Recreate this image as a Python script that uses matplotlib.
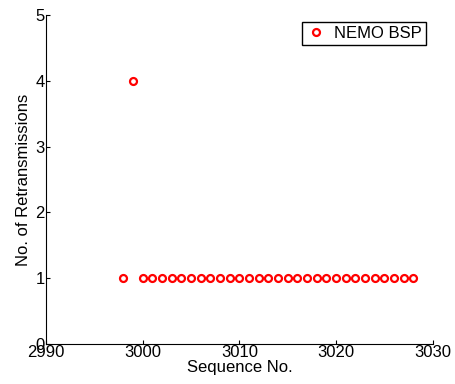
import numpy as np
import matplotlib.pyplot as plt

plt.rcParams['font.family'] = ['Liberation Sans', 'DejaVu Sans']

# Daten
seq_nr = [2998, 2999] + list(range(3000, 3029))
retrans = [1, 4] + [1] * 29

fig = plt.figure(figsize=(4.56, 3.84), dpi=100)
ax = fig.add_axes([0.101, 0.104, 0.848, 0.857])

ax.plot(seq_nr, retrans, 'o', color='red', markerfacecolor='none',
        markersize=5, markeredgewidth=1.6, label='NEMO BSP')

ax.set_xlim(2990, 3030)
ax.set_ylim(0, 5)
ax.set_xticks([2990, 3000, 3010, 3020, 3030])
ax.set_yticks([0, 1, 2, 3, 4, 5])
ax.spines['top'].set_visible(False)
ax.spines['right'].set_visible(False)
ax.tick_params(direction='in', length=3, labelsize=12, pad=1)
ax.set_xlabel('Sequence No.', fontsize=12, labelpad=0)
ax.set_ylabel('No. of Retransmissions', fontsize=12, labelpad=3)

leg = ax.legend(loc='upper right', bbox_to_anchor=(0.983, 0.98), fontsize=12,
                fancybox=False, edgecolor='black', framealpha=1,
                handlelength=1.2, handletextpad=0.5, borderpad=0.25,
                borderaxespad=0)
leg.get_frame().set_linewidth(1.0)

plt.savefig('out.png')
